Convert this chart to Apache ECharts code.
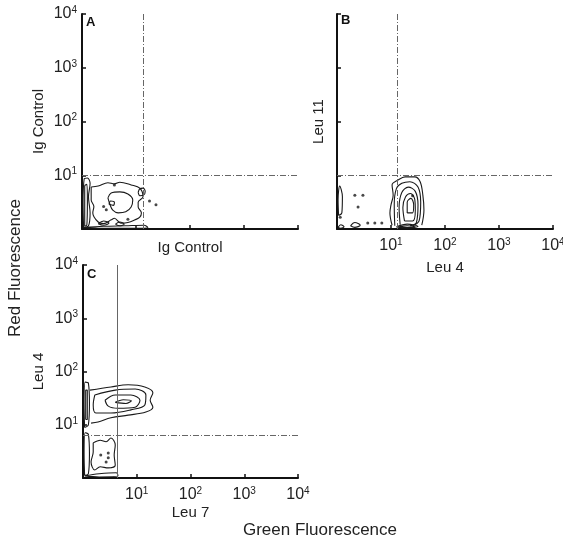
<!DOCTYPE html>
<html>
<head>
<meta charset="utf-8">
<script src="https://cdn.jsdelivr.net/npm/echarts@6/dist/echarts.min.js"></script>
<style>
  html, body { margin: 0; padding: 0; background: #fff; }
  #chart { width: 563px; height: 541px; }
</style>
</head>
<body>
<div id="chart"></div>
<script>
// all values in decades (log10 of fluorescence), axes run 10^0 .. 10^4
const decadeTicks = [1, 2, 3, 4]

// panel A - Ig Control / Ig Control
const aContours = [
  [[0.17, 0.78], [0.3, 0.8], [0.48, 0.86], [0.6, 0.84], [0.7, 0.87], [0.91, 0.82], [1.07, 0.76], [1.13, 0.6], [1.04, 0.5], [1.04, 0.41], [1.1, 0.3], [1.07, 0.22], [0.98, 0.17], [0.85, 0.12], [0.72, 0.11], [0.6, 0.2], [0.54, 0.17], [0.4, 0.1], [0.3, 0.13], [0.2, 0.3], [0.22, 0.42], [0.17, 0.54], [0.17, 0.78]],
  [[0.48, 0.58], [0.54, 0.67], [0.7, 0.69], [0.85, 0.65], [0.94, 0.54], [0.91, 0.41], [0.81, 0.32], [0.67, 0.3], [0.57, 0.35], [0.52, 0.45], [0.48, 0.58]],
  [[1.04, 0.68], [1.07, 0.75], [1.13, 0.76], [1.17, 0.7], [1.14, 0.63], [1.07, 0.62], [1.04, 0.68]],
  [[0.5, 0.46], [0.53, 0.52], [0.6, 0.5], [0.58, 0.44], [0.5, 0.46]],
  [[0.03, 0.02], [0.02, 0.5], [0.04, 0.93], [0.1, 0.95], [0.15, 0.85], [0.12, 0.6], [0.15, 0.3], [0.12, 0.06], [0.03, 0.02]],
  [[0.05, 0.05], [0.05, 0.8], [0.09, 0.83], [0.1, 0.5], [0.09, 0.08], [0.05, 0.05]],
  [[0.03, 0.03], [0.4, 0.05], [0.8, 0.06], [1.15, 0.07], [1.22, 0.03], [0.8, 0.015], [0.3, 0.015], [0.03, 0.03]],
  [[0.3, 0.1], [0.4, 0.15], [0.5, 0.11], [0.4, 0.07], [0.3, 0.1]],
  [[0.62, 0.09], [0.7, 0.13], [0.78, 0.09], [0.7, 0.06], [0.62, 0.09]]
]
const aDots = [[1.25, 0.52], [1.37, 0.45], [0.85, 0.18], [0.6, 0.82], [0.4, 0.42], [0.45, 0.36]]
const aGate = { x: 1.13, y: 1.0 }

// panel B - Leu 4 / Leu 11
const bContours = [
  [[1.02, 0.07], [0.98, 0.3], [1.0, 0.45], [1.04, 0.63], [1.02, 0.82], [1.13, 0.91], [1.26, 0.97], [1.44, 0.97], [1.54, 0.88], [1.59, 0.63], [1.61, 0.35], [1.57, 0.07]],
  [[1.07, 0.06], [1.06, 0.45], [1.1, 0.75], [1.2, 0.85], [1.35, 0.88], [1.5, 0.78], [1.55, 0.5], [1.52, 0.15], [1.4, 0.06]],
  [[1.17, 0.08], [1.15, 0.4], [1.2, 0.68], [1.32, 0.78], [1.45, 0.7], [1.5, 0.45], [1.47, 0.12], [1.35, 0.06]],
  [[1.25, 0.15], [1.22, 0.4], [1.27, 0.6], [1.36, 0.66], [1.44, 0.55], [1.45, 0.35], [1.4, 0.15], [1.25, 0.15]],
  [[1.3, 0.3], [1.3, 0.5], [1.37, 0.57], [1.42, 0.45], [1.4, 0.3], [1.3, 0.3]],
  [[1.1, 0.04], [1.3, 0.09], [1.5, 0.05], [1.3, 0.015], [1.1, 0.04]],
  [[1.15, 0.04], [1.3, 0.06], [1.45, 0.04], [1.3, 0.025], [1.15, 0.04]],
  [[0.03, 0.25], [0.02, 0.55], [0.05, 0.8], [0.1, 0.6], [0.09, 0.3], [0.03, 0.25]],
  [[0.25, 0.06], [0.33, 0.12], [0.43, 0.07], [0.33, 0.03], [0.25, 0.06]],
  [[0.02, 0.03], [0.07, 0.08], [0.13, 0.04], [0.07, 0.015], [0.02, 0.03]]
]
const bDots = [[0.33, 0.63], [0.48, 0.63], [0.39, 0.41], [0.57, 0.11], [0.7, 0.11], [0.83, 0.11], [0.06, 0.22], [1.4, 0.62]]
const bGate = { x: 1.11, y: 1.0 }

// panel C - Leu 7 / Leu 4
const cContours = [
  [[0.13, 1.65], [0.52, 1.71], [0.84, 1.75], [1.15, 1.71], [1.3, 1.6], [1.25, 1.46], [1.3, 1.33], [1.17, 1.24], [0.84, 1.18], [0.52, 1.13], [0.28, 1.05], [0.15, 1.03]],
  [[0.22, 1.56], [0.6, 1.65], [0.97, 1.67], [1.17, 1.56], [1.15, 1.37], [0.89, 1.28], [0.52, 1.22], [0.24, 1.22], [0.19, 1.37], [0.22, 1.56]],
  [[0.41, 1.46], [0.6, 1.56], [0.89, 1.56], [1.06, 1.46], [0.97, 1.33], [0.65, 1.31], [0.47, 1.35], [0.41, 1.46]],
  [[0.6, 1.42], [0.75, 1.47], [0.9, 1.45], [0.8, 1.4], [0.6, 1.42]],
  [[0.03, 0.95], [0.02, 1.4], [0.04, 1.8], [0.1, 1.78], [0.12, 1.4], [0.1, 1.0], [0.03, 0.95]],
  [[0.05, 1.1], [0.05, 1.65], [0.08, 1.65], [0.08, 1.1], [0.05, 1.1]],
  [[0.19, 0.66], [0.32, 0.71], [0.43, 0.68], [0.52, 0.75], [0.6, 0.62], [0.58, 0.43], [0.6, 0.24], [0.47, 0.19], [0.32, 0.21], [0.22, 0.15], [0.15, 0.3], [0.19, 0.49], [0.19, 0.66]],
  [[0.03, 0.05], [0.02, 0.45], [0.04, 0.85], [0.1, 0.82], [0.12, 0.45], [0.1, 0.08], [0.03, 0.05]],
  [[0.03, 0.04], [0.3, 0.08], [0.62, 0.1], [0.65, 0.04], [0.3, 0.02], [0.03, 0.04]]
]
const cDots = [[0.33, 0.43], [0.47, 0.47], [0.47, 0.38], [0.43, 0.3]]
const cGate = { x: 0.63, y: 0.81 }

const sup = { 1: '1', 2: '2', 3: '3', 4: '4' }
const labelFont = "'Liberation Sans', Arial, sans-serif"

const richLabel = {
  b: { fontSize: 16, fontFamily: labelFont, color: '#222' },
  s: { fontSize: 10, fontFamily: labelFont, color: '#222', verticalAlign: 'top', padding: [0, 0, 8, 0] }
}

function axis(idx, name, gap, showLabels, margin) {
  return {
    type: 'value',
    gridIndex: idx,
    min: 0,
    max: 4,
    interval: 1,
    name: name,
    nameLocation: 'middle',
    nameGap: gap,
    nameTextStyle: { fontFamily: labelFont, fontSize: 15, color: '#222' },
    axisLine: { onZero: false, lineStyle: { color: '#111', width: 2 } },
    axisTick: { inside: true, length: 4, lineStyle: { color: '#111', width: 1.5 } },
    splitLine: { show: false },
    axisLabel: {
      show: showLabels,
      margin: margin,
      formatter: v => decadeTicks.includes(v) ? '{b|10}{s|' + sup[v] + '}' : '',
      rich: richLabel
    }
  }
}

const gateStyle = { color: '#666', width: 1, type: [6, 2, 1, 2] }

function panelSeries(idx, contours, dots, gate, gateType) {
  const out = contours.map((c, i) => ({
    type: 'line',
    xAxisIndex: idx,
    yAxisIndex: idx,
    data: c,
    showSymbol: false,
    smooth: 0.35,
    silent: true,
    lineStyle: { color: '#1a1a1a', width: 1.1 },
    markLine: i === 0 ? {
      symbol: 'none',
      silent: true,
      label: { show: false },
      lineStyle: gateType ? Object.assign({}, gateStyle, { type: gateType }) : gateStyle,
      data: [{ xAxis: gate.x }]
    } : undefined
  }))
  out.push({
    type: 'scatter',
    xAxisIndex: idx,
    yAxisIndex: idx,
    data: dots,
    symbolSize: 3,
    silent: true,
    itemStyle: { color: '#1a1a1a' },
    markLine: {
      symbol: 'none',
      silent: true,
      label: { show: false },
      lineStyle: gateStyle,
      data: [{ yAxis: gate.y }]
    }
  })
  return out
}

const chart = echarts.init(document.getElementById('chart'))

const option = {
  backgroundColor: '#fff',
  animation: false,
  grid: [
    { left: 82, top: 14, width: 216, height: 215, outerBoundsMode: 'none' },
    { left: 337, top: 14, width: 216, height: 215, outerBoundsMode: 'none' },
    { left: 83, top: 265, width: 215, height: 213, outerBoundsMode: 'none' }
  ],
  xAxis: [
    axis(0, 'Ig Control', 11, false, 8),
    axis(1, 'Leu 4', 31, true, 8),
    axis(2, 'Leu 7', 27, true, 8)
  ],
  yAxis: [
    axis(0, 'Ig Control', 36, true, 5),
    axis(1, 'Leu 11', 11, false, 5),
    axis(2, 'Leu 4', 37, true, 5)
  ],
  series: [].concat(
    panelSeries(0, aContours, aDots, aGate),
    panelSeries(1, bContours, bDots, bGate),
    panelSeries(2, cContours, cDots, cGate, 'solid')
  ),
  graphic: [
    { type: 'text', left: 86, top: 16, style: { text: 'A', font: "bold 13px 'Liberation Sans', sans-serif", fill: '#111' } },
    { type: 'text', left: 341, top: 14, style: { text: 'B', font: "bold 13px 'Liberation Sans', sans-serif", fill: '#111' } },
    { type: 'text', left: 87, top: 268, style: { text: 'C', font: "bold 13px 'Liberation Sans', sans-serif", fill: '#111' } },
    {
      type: 'text', x: 15, y: 268, rotation: Math.PI / 2,
      style: { text: 'Red Fluorescence', font: "17px " + labelFont, fill: '#222', align: 'center', verticalAlign: 'middle' }
    },
    {
      type: 'text', x: 320, y: 530,
      style: { text: 'Green Fluorescence', font: "17px " + labelFont, fill: '#222', align: 'center', verticalAlign: 'middle' }
    }
  ]
}

chart.setOption(option)
</script>
</body>
</html>
